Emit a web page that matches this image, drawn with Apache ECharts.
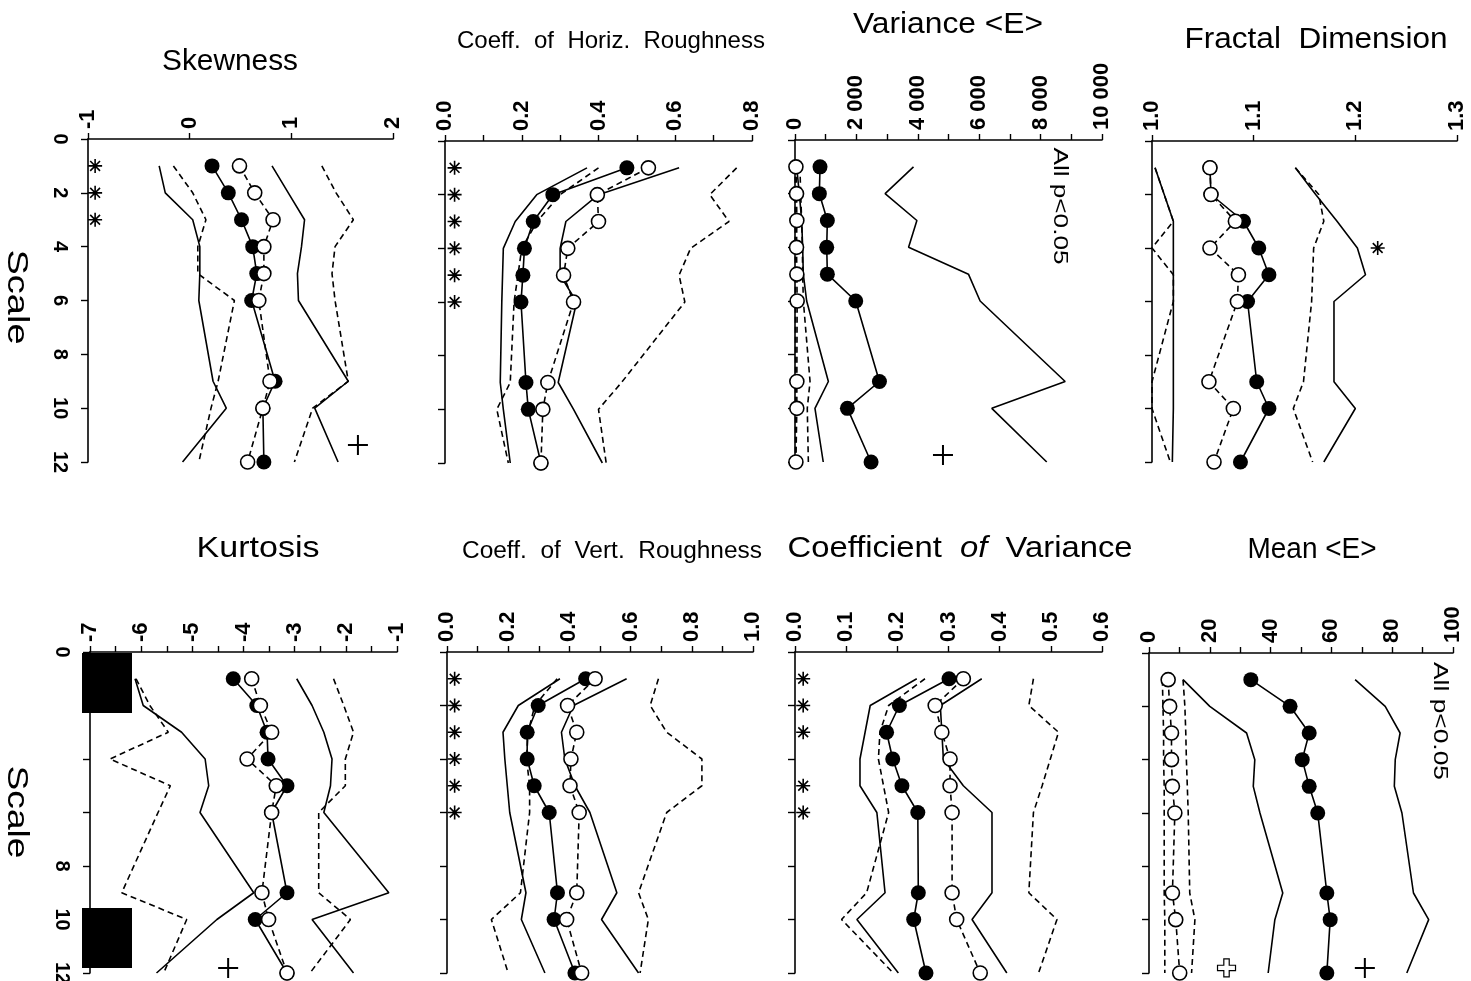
<!DOCTYPE html>
<html><head><meta charset="utf-8">
<script src="https://cdn.jsdelivr.net/npm/echarts@6/dist/echarts.min.js"></script>
<style>html,body{margin:0;padding:0;background:#fff}#c{width:1471px;height:981px}</style>
</head><body><div id="c"></div>
<script>
// ---------- DATA ----------
const scales = [1, 2, 3, 4, 5, 6, 9, 10, 12];

// Skewness
const skewFilled  = [0.22, 0.38, 0.51, 0.62, 0.66, 0.61, 0.84, 0.72, 0.73];
const skewOpen    = [0.49, 0.64, 0.82, 0.73, 0.73, 0.68, 0.79, 0.72, 0.57];
const skewSolidLo = [-0.30, -0.24, 0.03, 0.10, 0.10, 0.09, 0.23, 0.36, -0.07];
const skewSolidHi = [0.81, 0.97, 1.13, 1.10, 1.06, 1.07, 1.56, 1.23, 1.46];
const skewDashLo  = [-0.16, 0.03, 0.16, 0.08, 0.08, 0.44, 0.28, 0.21, 0.09];
const skewDashHi  = [1.30, 1.44, 1.61, 1.43, 1.40, 1.43, 1.56, 1.21, 1.03];
const skewStars   = [1, 2, 3];

// Coeff. of Horiz. Roughness
const hrFilled  = [0.474, 0.281, 0.230, 0.207, 0.203, 0.198, 0.211, 0.217, 0.250];
const hrOpen    = [0.530, 0.397, 0.400, 0.320, 0.309, 0.335, 0.268, 0.255, 0.250];
const hrSolidLo = [0.370, 0.239, 0.183, 0.152, 0.150, 0.148, 0.144, 0.152, 0.170];
const hrSolidHi = [0.610, 0.400, 0.315, 0.300, 0.300, 0.343, 0.295, 0.335, 0.410];
const hrDashLo  = [0.400, 0.300, 0.240, 0.200, 0.190, 0.180, 0.170, 0.135, 0.165];
const hrDashHi  = [0.760, 0.690, 0.740, 0.640, 0.610, 0.625, 0.460, 0.400, 0.420];
const hrStars   = [1, 2, 3, 4, 5, 6];

// Variance <E>
const varFilled  = [815, 793, 1054, 1033, 1054, 1978, 2750, 1707, 2478];
const varOpen    = [30, 50, 60, 50, 60, 70, 60, 60, 30];
const varSolidLo = [54, 140, 217, 250, 270, 380, 1087, 650, 920];
const varSolidHi = [3860, 2935, 3970, 3700, 5650, 6030, 8800, 6410, 8200];
const varDashLo  = [5, 10, 10, 10, 15, 15, 20, 20, 15];
const varDashHi  = [160, 185, 217, 240, 250, 272, 490, 400, 435];

// Fractal Dimension
const fdFilled  = [1.057, 1.058, 1.090, 1.105, 1.115, 1.094, 1.103, 1.115, 1.087];
const fdOpen    = [1.057, 1.058, 1.082, 1.057, 1.085, 1.084, 1.056, 1.080, 1.061];
const fdSolidLo = [1.003, 1.012, 1.021, 1.021, 1.021, 1.021, 1.021, 1.021, 1.020];
const fdSolidHi = [1.141, 1.161, 1.182, 1.202, 1.210, 1.179, 1.179, 1.200, 1.169];
const fdDashLo  = [1.003, 1.012, 1.021, 1.000, 1.021, 1.021, 1.000, 1.000, 1.018];
const fdDashHi  = [1.141, 1.164, 1.169, 1.159, 1.158, 1.157, 1.149, 1.139, 1.158];
const fdStars   = [[1.222, 4]];

// Kurtosis
const kuFilled  = [-4.20, -3.74, -3.54, -3.52, -3.15, -3.45, -3.15, -3.77, -3.15];
const kuOpen    = [-3.84, -3.67, -3.45, -3.93, -3.36, -3.45, -3.64, -3.51, -3.15];
const kuSolidLo = [-6.12, -5.96, -5.21, -4.75, -4.68, -4.85, -3.80, -4.52, -5.70];
const kuSolidHi = [-2.96, -2.66, -2.43, -2.27, -2.30, -2.43, -1.16, -2.66, -1.85];
const kuDashLo  = [-6.10, -5.83, -5.47, -6.61, -5.43, -5.67, -6.38, -5.11, -5.56];
const kuDashHi  = [-2.24, -2.04, -1.85, -2.01, -2.01, -2.53, -2.53, -1.91, -2.70];

// Coeff. of Vert. Roughness
const vrFilled  = [0.453, 0.298, 0.262, 0.262, 0.285, 0.334, 0.361, 0.350, 0.418];
const vrOpen    = [0.484, 0.394, 0.424, 0.405, 0.402, 0.432, 0.424, 0.391, 0.440];
const vrSolidLo = [0.369, 0.233, 0.183, 0.189, 0.197, 0.205, 0.258, 0.243, 0.320];
const vrSolidHi = [0.587, 0.413, 0.374, 0.385, 0.418, 0.467, 0.555, 0.505, 0.626];
const vrDashLo  = [0.360, 0.287, 0.265, 0.260, 0.270, 0.270, 0.240, 0.145, 0.200];
const vrDashHi  = [0.691, 0.664, 0.718, 0.833, 0.833, 0.718, 0.626, 0.658, 0.631];
const vrStars   = [1, 2, 3, 4, 5, 6];

// Coefficient of Variance
const cvFilled  = [0.301, 0.204, 0.179, 0.191, 0.209, 0.240, 0.241, 0.232, 0.256];
const cvOpen    = [0.329, 0.274, 0.287, 0.303, 0.303, 0.307, 0.307, 0.316, 0.362];
const cvSolidLo = [0.238, 0.147, 0.137, 0.127, 0.127, 0.160, 0.176, 0.121, 0.202];
const cvSolidHi = [0.365, 0.284, 0.287, 0.290, 0.329, 0.385, 0.385, 0.346, 0.414];
const cvDashLo  = [0.254, 0.183, 0.166, 0.163, 0.173, 0.183, 0.140, 0.091, 0.192];
const cvDashHi  = [0.466, 0.457, 0.515, 0.499, 0.483, 0.466, 0.457, 0.512, 0.476];
const cvStars   = [1, 2, 3, 5, 6];

// Mean <E>
const meFilled  = [33.5, 46.4, 52.7, 50.4, 52.7, 55.5, 58.5, 59.6, 58.5];
const meOpen    = [6.3, 6.8, 7.4, 7.4, 7.7, 8.5, 7.7, 8.8, 10.1];
const meSolidLo = [11.2, 20.0, 32.1, 34.8, 34.3, 36.5, 44.0, 41.4, 39.2];
const meSolidHi = [67.8, 77.7, 82.6, 81.0, 80.7, 83.2, 87.0, 92.0, 84.8];
const meDashLo  = [4.4, 4.6, 4.8, 4.8, 5.0, 5.0, 5.0, 5.2, 5.2];
const meDashHi  = [11.2, 11.8, 12.1, 12.3, 12.6, 12.9, 13.4, 15.1, 14.0];

// "+" annotations  [value, scale]
const skewPlus = [[1.655, 11.37]];
const varPlus  = [[4820, 11.74]];
const kuPlus   = [[-4.30, 11.81]];
const mePlus   = [[71, 11.81]];
const meHollowPlus = [[25.5, 11.81]];

// tick labels
const scaleTicks = [0, 2, 4, 6, 8, 10, 12];
const kurtScaleLabels = [0, 8, 10, 12];

// ---------- CHART ----------
const FONT = 'Liberation Sans';
const cv = document.createElement('canvas').getContext('2d');
function textW(t, size, style) { cv.font = (style || 'normal') + ' ' + size + 'px "' + FONT + '"'; return cv.measureText(t).width; }

const STAR = 'path://M10,0L10,20M0,10L20,10M3,3L17,17M3,17L17,3';
const PLUS = 'path://M10,0L10,20M0,10L20,10';
const HPLUS = 'path://M7,0L13,0L13,7L20,7L20,13L13,13L13,20L7,20L7,13L0,13L0,7L7,7Z';

const grids = [], xAxes = [], yAxes = [], series = [];

function mkSeries(i, vals, kind) {
  const dashed = (kind === 'open' || kind === 'dash');
  const s = {
    type: 'line', xAxisIndex: i, yAxisIndex: i, animation: false, silent: true,
    data: vals.map((v, k) => [v, scales[k]]),
    lineStyle: { color: '#000', width: 1.6, type: dashed ? [6, 4] : 'solid' },
    symbol: 'none', z: 3
  };
  if (kind === 'filled') {
    s.symbol = 'circle'; s.symbolSize = 15; s.showSymbol = true;
    s.itemStyle = { color: '#000', borderColor: '#000', borderWidth: 0 }; s.z = 4;
  } else if (kind === 'open') {
    s.symbol = 'circle'; s.symbolSize = 14; s.showSymbol = true;
    s.itemStyle = { color: '#fff', borderColor: '#000', borderWidth: 1.6 }; s.z = 5;
  }
  return s;
}
function mkScatter(i, pts, sym, size, fill, bw) {
  return { type: 'scatter', xAxisIndex: i, yAxisIndex: i, animation: false, silent: true,
    data: pts, symbol: sym, symbolSize: size, z: 6,
    itemStyle: { color: fill, borderColor: '#000', borderWidth: bw, opacity: 1 } };
}

const axisLine = { show: true, onZero: false, lineStyle: { color: '#000', width: 1.6 } };

function addPanel(p) {
  const i = grids.length;
  grids.push({ left: p.left, top: p.top, width: p.width, height: p.height, containLabel: false, outerBoundsMode: 'none' });
  xAxes.push({
    type: 'value', gridIndex: i, position: 'top', min: p.min, max: p.max, interval: p.interval,
    axisLine: axisLine, splitLine: { show: false },
    axisTick: { show: true, inside: false, length: 6, lineStyle: { color: '#000', width: 1.4 } },
    axisLabel: { show: true, rotate: -90, margin: 10, color: '#000', fontSize: 22, fontWeight: 'bold', fontFamily: FONT,
      formatter: p.fmt, showMinLabel: true, showMaxLabel: true }
  });
  yAxes.push({
    type: 'value', gridIndex: i, position: 'left', min: 0, max: 12, interval: 2, inverse: true,
    axisLine: axisLine, splitLine: { show: false },
    axisTick: { show: true, inside: false, length: 7, lineStyle: { color: '#000', width: 1.4 } },
    axisLabel: { show: !!p.yFmt, rotate: -90, margin: 18, color: '#000', fontSize: 20, fontWeight: 'bold', fontFamily: FONT,
      formatter: p.yFmt || '' }
  });
  series.push(mkSeries(i, p.d.solidLo, 'solid'));
  series.push(mkSeries(i, p.d.solidHi, 'solid'));
  series.push(mkSeries(i, p.d.dashLo, 'dash'));
  series.push(mkSeries(i, p.d.dashHi, 'dash'));
  series.push(mkSeries(i, p.d.filled, 'filled'));
  series.push(mkSeries(i, p.d.open, 'open'));
  (p.extras || []).forEach(e => series.push(mkScatter(i, e.pts, e.sym, e.size, e.fill, e.bw)));
}

const near = (v, t) => Math.abs(v - t) < 1e-6;
const starAt = (val, list) => list.map(s => [val, s]);

// top row
addPanel({ left: 88, top: 139, width: 305, height: 323, min: -1, max: 2, interval: 1,
  fmt: v => String(Math.round(v)), yFmt: v => (scaleTicks.indexOf(Math.round(v)) >= 0 ? String(Math.round(v)) : ''),
  d: { filled: skewFilled, open: skewOpen, solidLo: skewSolidLo, solidHi: skewSolidHi, dashLo: skewDashLo, dashHi: skewDashHi },
  extras: [ { pts: starAt(-0.93, skewStars), sym: STAR, size: 14, fill: 'rgba(0,0,0,0)', bw: 1.6 },
            { pts: skewPlus, sym: PLUS, size: 20, fill: 'rgba(0,0,0,0)', bw: 2 } ] });

addPanel({ left: 445, top: 141, width: 307, height: 322, min: 0, max: 0.8, interval: 0.1,
  fmt: v => (Math.round(v * 10) % 2 === 0 ? v.toFixed(1) : ''),
  d: { filled: hrFilled, open: hrOpen, solidLo: hrSolidLo, solidHi: hrSolidHi, dashLo: hrDashLo, dashHi: hrDashHi },
  extras: [ { pts: starAt(0.025, hrStars), sym: STAR, size: 14, fill: 'rgba(0,0,0,0)', bw: 1.6 } ] });

addPanel({ left: 795, top: 140, width: 307, height: 322, min: 0, max: 10000, interval: 1000,
  fmt: v => (v === 0 ? '0' : (Math.round(v) % 2000 === 0 ? (Math.round(v) / 1000) + ' 000' : '')),
  d: { filled: varFilled, open: varOpen, solidLo: varSolidLo, solidHi: varSolidHi, dashLo: varDashLo, dashHi: varDashHi },
  extras: [ { pts: varPlus, sym: PLUS, size: 20, fill: 'rgba(0,0,0,0)', bw: 2 } ] });

addPanel({ left: 1152, top: 141, width: 305, height: 321, min: 1.0, max: 1.3, interval: 0.1,
  fmt: v => v.toFixed(1),
  d: { filled: fdFilled, open: fdOpen, solidLo: fdSolidLo, solidHi: fdSolidHi, dashLo: fdDashLo, dashHi: fdDashHi },
  extras: [ { pts: fdStars, sym: STAR, size: 14, fill: 'rgba(0,0,0,0)', bw: 1.6 } ] });

// bottom row
addPanel({ left: 90, top: 652, width: 307, height: 321, min: -7, max: -1, interval: 0.5,
  fmt: v => (near(v, Math.round(v)) ? String(Math.round(v)) : ''),
  yFmt: v => (kurtScaleLabels.indexOf(Math.round(v)) >= 0 ? String(Math.round(v)) : ''),
  d: { filled: kuFilled, open: kuOpen, solidLo: kuSolidLo, solidHi: kuSolidHi, dashLo: kuDashLo, dashHi: kuDashHi },
  extras: [ { pts: kuPlus, sym: PLUS, size: 20, fill: 'rgba(0,0,0,0)', bw: 2 } ] });

addPanel({ left: 447, top: 652, width: 306, height: 321, min: 0, max: 1.0, interval: 0.1,
  fmt: v => (Math.round(v * 10) % 2 === 0 ? v.toFixed(1) : ''),
  d: { filled: vrFilled, open: vrOpen, solidLo: vrSolidLo, solidHi: vrSolidHi, dashLo: vrDashLo, dashHi: vrDashHi },
  extras: [ { pts: starAt(0.025, vrStars), sym: STAR, size: 14, fill: 'rgba(0,0,0,0)', bw: 1.6 } ] });

addPanel({ left: 795, top: 652, width: 307, height: 321, min: 0, max: 0.6, interval: 0.1,
  fmt: v => v.toFixed(1),
  d: { filled: cvFilled, open: cvOpen, solidLo: cvSolidLo, solidHi: cvSolidHi, dashLo: cvDashLo, dashHi: cvDashHi },
  extras: [ { pts: starAt(0.016, cvStars), sym: STAR, size: 14, fill: 'rgba(0,0,0,0)', bw: 1.6 } ] });

addPanel({ left: 1149, top: 653, width: 304, height: 320, min: 0, max: 100, interval: 10,
  fmt: v => (Math.round(v) % 20 === 0 ? String(Math.round(v)) : ''),
  d: { filled: meFilled, open: meOpen, solidLo: meSolidLo, solidHi: meSolidHi, dashLo: meDashLo, dashHi: meDashHi },
  extras: [ { pts: mePlus, sym: PLUS, size: 20, fill: 'rgba(0,0,0,0)', bw: 2 },
            { pts: meHollowPlus, sym: HPLUS, size: 18, fill: '#fff', bw: 1.2 } ] });

// ---------- TEXT (titles etc.) ----------
function label(t, cx, cy, size, target, rot, rich) {
  const w = textW(t, size);
  const sx = target ? target / w : 1;
  const el = { type: 'text', x: cx, y: cy, rotation: rot || 0, scaleX: sx, scaleY: 1, z: 10, silent: true,
    style: { text: t, fontSize: size, fontFamily: FONT, fill: '#000', align: 'center', verticalAlign: 'middle' } };
  if (rich) { el.style.text = rich.text; el.style.rich = rich.rich; }
  return el;
}
const R = -Math.PI / 2;
const graphics = [
  label('Skewness', 230, 62, 30, 136),
  label('Coeff.  of  Horiz.  Roughness', 611, 41, 24, 308),
  label('Variance <E>', 948, 25, 29, 190),
  label('Fractal  Dimension', 1316, 40, 29, 263),
  label('Kurtosis', 258, 549, 30, 123),
  label('Coeff.  of  Vert.  Roughness', 612, 552, 23, 300),
  label('Coefficient  of  Variance', 960, 549, 29, 345, 0, {
    text: '{a|Coefficient  }{b|of}{a|  Variance}',
    rich: { a: { fontSize: 29, fontFamily: FONT, fill: '#000' }, b: { fontSize: 29, fontFamily: FONT, fontStyle: 'italic', fill: '#000' } } }),
  label('Mean <E>', 1312, 550, 29, 129),
  label('Scale', 16, 297, 29, 95, R),
  label('Scale', 16, 812, 29, 93, R),
  label('All p<0.05', 1060, 206, 21, 117, R),
  label('All p<0.05', 1440, 721, 21, 118, R),
  { type: 'rect', shape: { x: 82, y: 653, width: 50, height: 60 }, style: { fill: '#000' }, z: 10, silent: true },
  { type: 'rect', shape: { x: 82, y: 908, width: 50, height: 60 }, style: { fill: '#000' }, z: 10, silent: true }
];

const chart = echarts.init(document.getElementById('c'), null, { renderer: 'canvas' });
chart.setOption({
  animation: false,
  backgroundColor: '#fff',
  grid: grids, xAxis: xAxes, yAxis: yAxes, series: series,
  graphic: { elements: graphics }
});
</script></body></html>
